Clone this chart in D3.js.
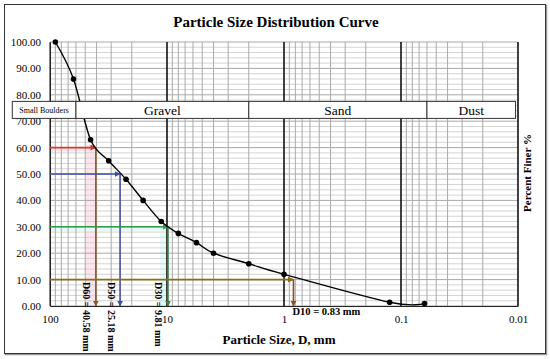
<!DOCTYPE html>
<html>
<head>
<meta charset="utf-8">
<script src="https://cdn.jsdelivr.net/npm/d3@7"></script>
<style>
  body { margin: 0; background: #fff; }
  text { font-family: "Liberation Serif", "Times New Roman", serif; }
</style>
</head>
<body>
<svg id="chart"></svg>
<script>
// sieve data
const sizes = [90, 63, 45, 31.5, 22.4, 16, 11.2, 8, 5.6, 4, 2, 1, 0.125, 0.063];
const percentFiner = [100, 86, 63, 55, 48, 40, 32, 27.5, 24, 20, 16, 12, 1.4, 0.9];

// D values
const dLabels = ["D60", "D50", "D30", "D10"];
const dPercent = [60, 50, 30, 10];
const dSize = [40.58, 25.18, 9.81, 0.83];

// soil classes (from size, to size)
const bandNames = ["Small Boulders", "Gravel", "Sand", "Dust"];
const bandFrom = [210, 60, 2, 0.06];
const bandTo = [60, 2, 0.06, 0.0105];

const xTicks = [100, 10, 1, 0.1, 0.01];
const yTicks = [0, 10, 20, 30, 40, 50, 60, 70, 80, 90, 100];

const W = 550, H = 359;
const margin = { top: 42, right: 32, bottom: 53, left: 50 };
const width = W - margin.left - margin.right;
const height = H - margin.top - margin.bottom;

const svg = d3.select("#chart").attr("width", W).attr("height", H);

// frame
svg.append("rect").attr("x", 5.5).attr("y", 5.5).attr("width", 541).attr("height", 349)
  .attr("fill", "none").attr("stroke", "#999").attr("stroke-width", 1.5);
svg.append("rect").attr("x", 4.5).attr("y", 4.5).attr("width", 541).attr("height", 349)
  .attr("fill", "#fff").attr("stroke", "#333").attr("stroke-width", 1);

svg.append("text").attr("x", 276).attr("y", 27).attr("text-anchor", "middle")
  .attr("font-size", 15).attr("font-weight", "bold").text("Particle Size Distribution Curve");

const g = svg.append("g").attr("transform", `translate(${margin.left},${margin.top})`);

const x = d3.scaleLog().domain([100, 0.01]).range([0, width]);
const y = d3.scaleLinear().domain([0, 100]).range([height, 0]);

// highlight bands behind the D60 / D30 lines
g.append("rect").attr("x", x(dSize[0]) - 10).attr("y", y(dPercent[0]) - 3)
  .attr("width", 11).attr("height", y(0) - y(dPercent[0]) + 3).attr("fill", "#ffe4ec");
g.append("rect").attr("x", 0).attr("y", y(dPercent[0]) + 1)
  .attr("width", x(dSize[0])).attr("height", 3).attr("fill", "#ffe4ec");
g.append("rect").attr("x", x(dSize[2]) - 8).attr("y", y(dPercent[2]))
  .attr("width", 8).attr("height", y(0) - y(dPercent[2])).attr("fill", "#e6fbf6");
g.append("rect").attr("x", 0).attr("y", y(dPercent[2]))
  .attr("width", x(dSize[2])).attr("height", 4).attr("fill", "#e6fbf6");

// horizontal grid
const yMinor = d3.range(0, 101, 2);
g.selectAll(".hgrid").data(yMinor).join("line")
  .attr("x1", 0).attr("x2", width)
  .attr("y1", d => y(d)).attr("y2", d => y(d))
  .attr("stroke", d => d % 10 === 0 ? "#a8a8a8" : "#d4d4d4").attr("stroke-width", 1);

// vertical grid (log minors)
const xMinor = [];
[10, 1, 0.1, 0.01].forEach(dec => { for (let k = 2; k <= 9; k++) xMinor.push(dec * k); });
g.selectAll(".vgrid").data(xMinor).join("line")
  .attr("x1", d => x(d)).attr("x2", d => x(d))
  .attr("y1", 0).attr("y2", height)
  .attr("stroke", "#aaa").attr("stroke-width", 1);
g.selectAll(".vmajor").data(xTicks).join("line")
  .attr("x1", d => x(d)).attr("x2", d => x(d))
  .attr("y1", 0).attr("y2", height)
  .attr("stroke", "#111").attr("stroke-width", d => (d === 100 ? 1 : 1.6));

// axes
const yAxis = g.append("g").call(d3.axisLeft(y).tickValues(yTicks).tickSize(0).tickPadding(9)
  .tickFormat(d3.format(".2f")));
yAxis.select(".domain").attr("stroke", "#222");
yAxis.selectAll("text").attr("font-size", 11).attr("font-family", "Liberation Serif");

const xAxis = g.append("g").attr("transform", `translate(0,${height})`)
  .call(d3.axisBottom(x).tickValues(xTicks).tickSize(0).tickPadding(9).tickFormat(d => String(d)));
xAxis.select(".domain").attr("stroke", "#222");
xAxis.selectAll("text").attr("font-size", 11).attr("font-family", "Liberation Serif");

// arrow markers
const hColors = ["#d23a2a", "#3f4fa0", "#2f9a4a", "#8a6d1a"];
const vColors = ["#8b5a2b", "#3f4fa0", "#3c8046", "#8b4f1e"];
const defs = svg.append("defs");
hColors.concat(vColors).forEach((c, i) => {
  defs.append("marker").attr("id", "arr" + i).attr("viewBox", "0 0 10 10")
    .attr("refX", 9).attr("refY", 5).attr("markerWidth", 6).attr("markerHeight", 6)
    .attr("orient", "auto").attr("markerUnits", "userSpaceOnUse")
    .append("path").attr("d", "M0,0 L10,5 L0,10 Z").attr("fill", c);
});

// D lines
const dg = g.selectAll(".dline").data(dLabels).join("g");
dg.append("line")
  .attr("x1", 0).attr("x2", (d, i) => x(dSize[i]))
  .attr("y1", (d, i) => y(dPercent[i])).attr("y2", (d, i) => y(dPercent[i]))
  .attr("stroke", (d, i) => hColors[i]).attr("stroke-width", 1.6)
  .attr("marker-end", (d, i) => `url(#arr${i})`);
dg.append("line")
  .attr("x1", (d, i) => x(dSize[i])).attr("x2", (d, i) => x(dSize[i]))
  .attr("y1", (d, i) => y(dPercent[i])).attr("y2", y(0))
  .attr("stroke", (d, i) => vColors[i]).attr("stroke-width", 1.6)
  .attr("marker-end", (d, i) => `url(#arr${i + 4})`);

dg.filter((d, i) => i < 3).append("text")
  .attr("transform", (d, i) => `translate(${x(dSize[i]) - 9},${y(0) - 24}) rotate(90)`)
  .attr("dy", "0.35em").attr("font-size", 10).attr("font-weight", "bold")
  .text((d, i) => `${d} = ${dSize[i]} mm`);
dg.filter((d, i) => i === 3).append("text")
  .attr("x", x(dSize[3]) - 1).attr("y", y(0) + 9)
  .attr("font-size", 10.5).attr("font-weight", "bold")
  .text(d => `${d} = ${dSize[3]} mm`);

// curve
const pts = sizes.map((s, i) => [s, percentFiner[i]]);
g.append("path").datum(pts)
  .attr("fill", "none").attr("stroke", "#000").attr("stroke-width", 1.4)
  .attr("d", d3.line().x(d => x(d[0])).y(d => y(d[1])).curve(d3.curveCardinal.tension(0)));
g.selectAll(".pt").data(pts).join("circle")
  .attr("cx", d => x(d[0])).attr("cy", d => y(d[1])).attr("r", 2.8).attr("fill", "#000");

// soil class boxes (drawn over the curve)
const bands = g.selectAll(".band").data(bandNames).join("g");
bands.append("rect")
  .attr("x", (d, i) => x(bandFrom[i])).attr("y", y(77.5))
  .attr("width", (d, i) => x(bandTo[i]) - x(bandFrom[i])).attr("height", 17)
  .attr("fill", "#fff").attr("stroke", "#333").attr("stroke-width", 1);
bands.append("text")
  .attr("x", (d, i) => (x(bandFrom[i]) + x(bandTo[i])) / 2)
  .attr("y", y(77.5) + 8.5).attr("dy", "0.35em").attr("text-anchor", "middle")
  .attr("font-size", (d, i) => i === 0 ? 8 : 13.5).text(d => d);

// axis titles
svg.append("text").attr("x", 279).attr("y", 344).attr("text-anchor", "middle")
  .attr("font-size", 13).attr("font-weight", "bold").text("Particle Size, D, mm");
svg.append("text").attr("transform", "translate(527,173) rotate(-90)")
  .attr("text-anchor", "middle").attr("dy", "0.35em")
  .attr("font-size", 11).attr("font-weight", "bold").text("Percent Finer %");
</script>
</body>
</html>
